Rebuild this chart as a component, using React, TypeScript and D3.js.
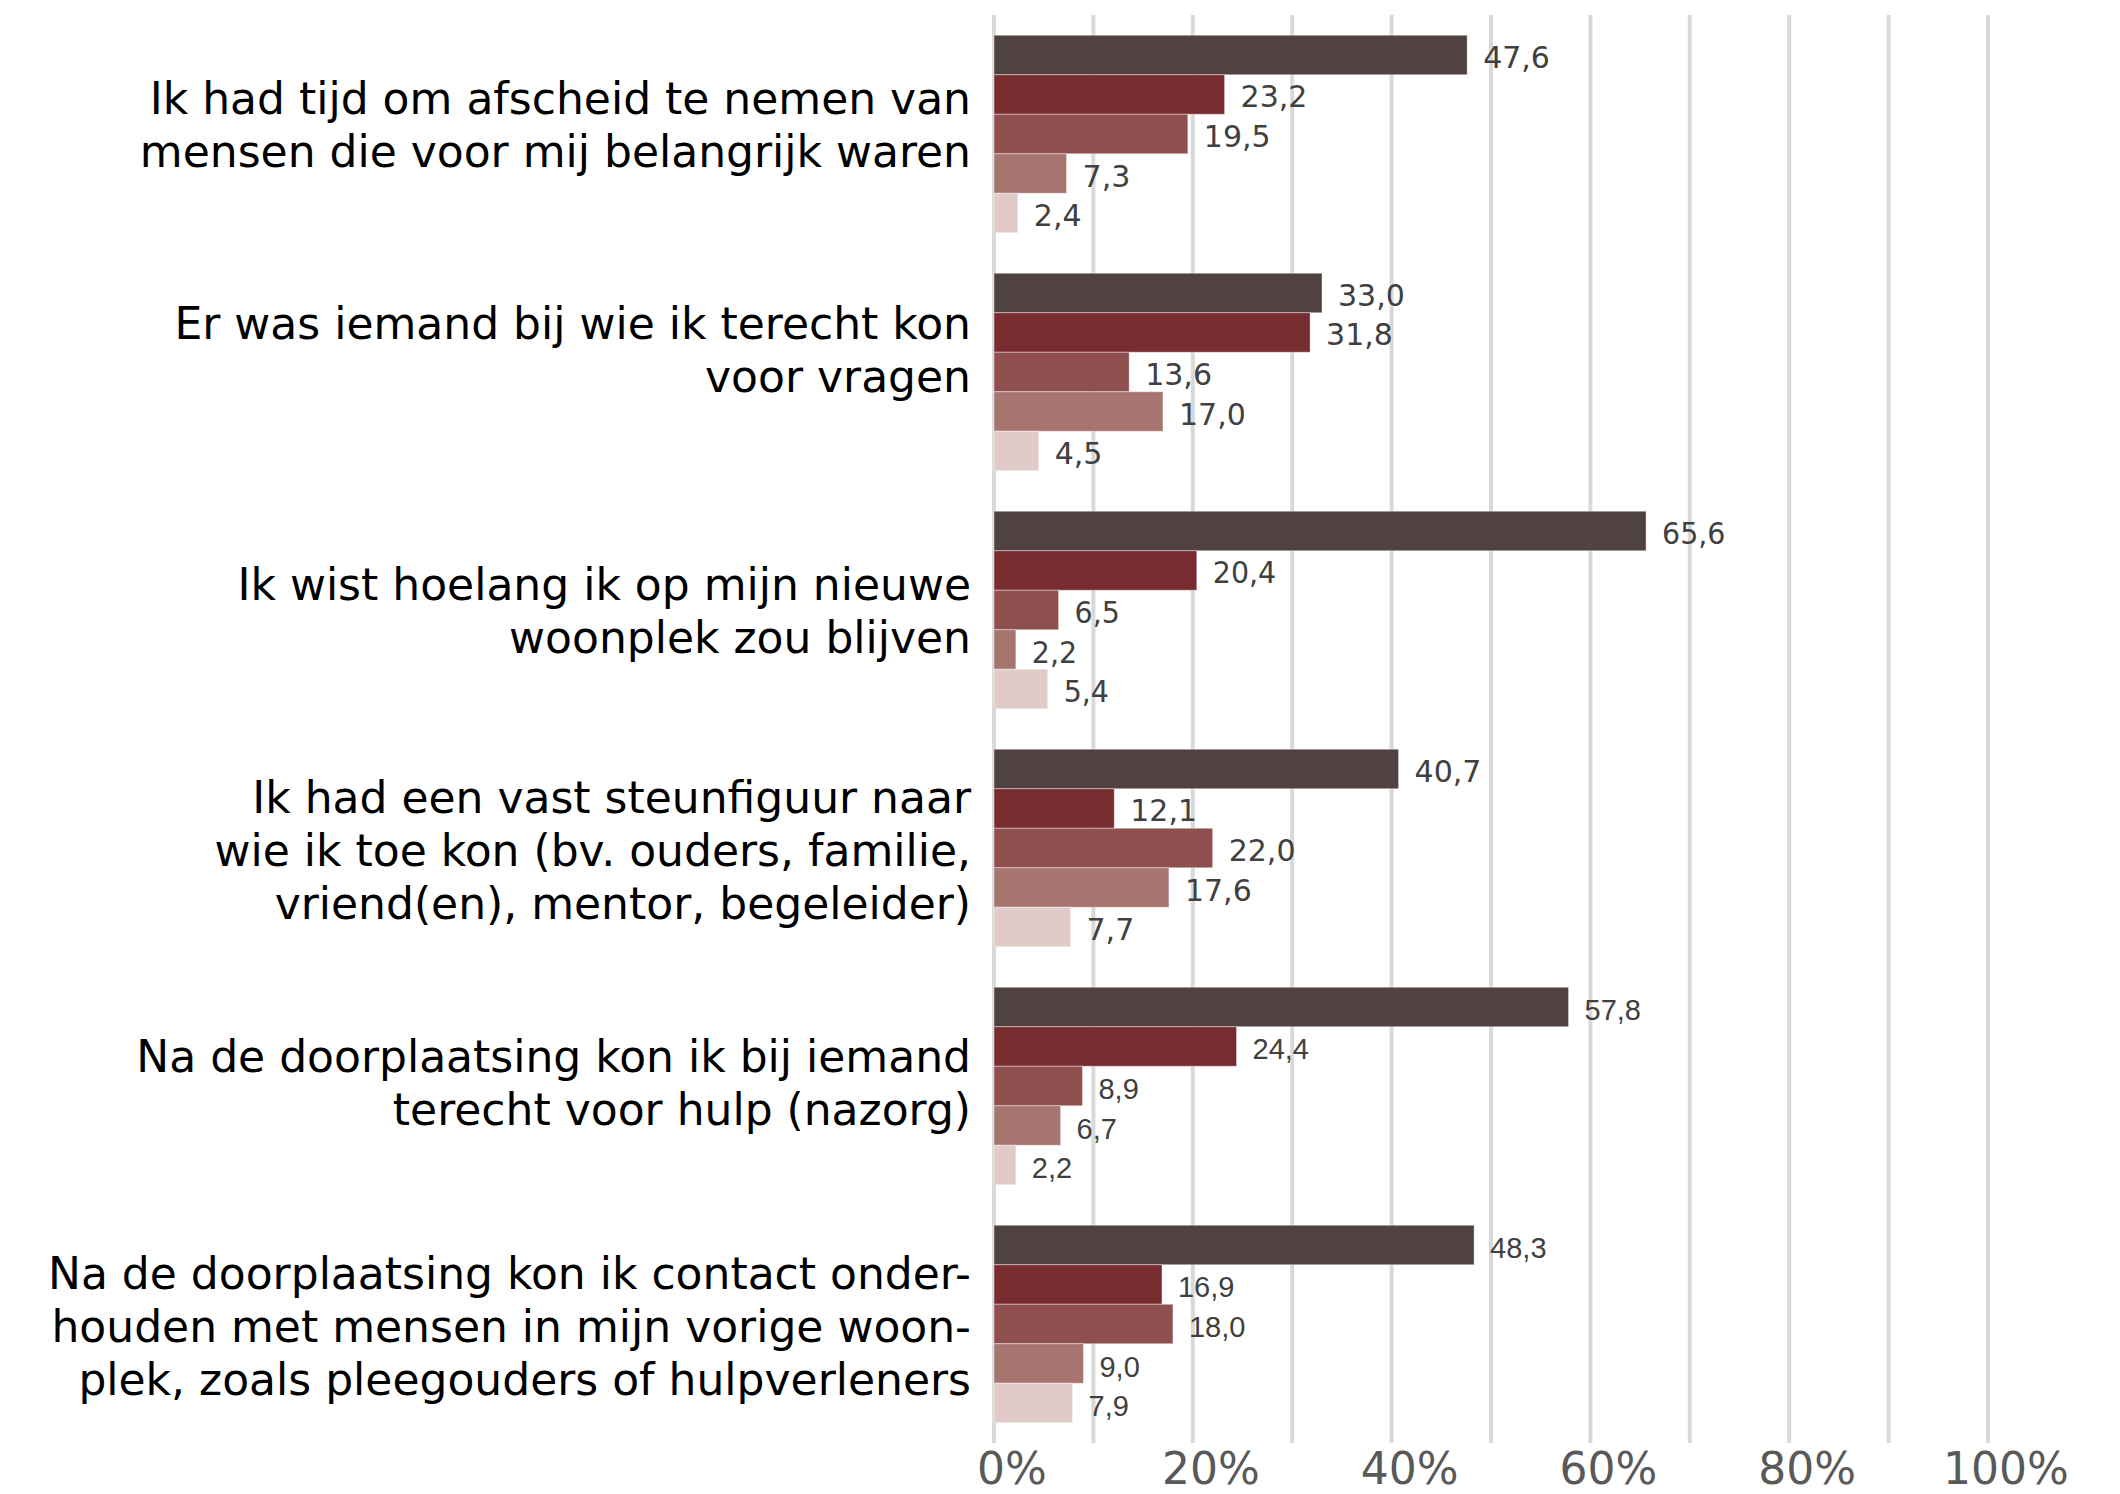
import React from "react";
import * as d3 from "d3";

const categories: string[][] = [
  ["Ik had tijd om afscheid te nemen van", "mensen die voor mij belangrijk waren"],
  ["Er was iemand bij wie ik terecht kon", "voor vragen"],
  ["Ik wist hoelang ik op mijn nieuwe", "woonplek zou blijven"],
  ["Ik had een vast steunfiguur naar", "wie ik toe kon (bv. ouders, familie,", "vriend(en), mentor, begeleider)"],
  ["Na de doorplaatsing kon ik bij iemand", "terecht voor hulp (nazorg)"],
  ["Na de doorplaatsing kon ik contact onder-", "houden met mensen in mijn vorige woon-", "plek, zoals pleegouders of hulpverleners"],
];

const series1 = [47.6, 33.0, 65.6, 40.7, 57.8, 48.3];
const series2 = [23.2, 31.8, 20.4, 12.1, 24.4, 16.9];
const series3 = [19.5, 13.6, 6.5, 22.0, 8.9, 18.0];
const series4 = [7.3, 17.0, 2.2, 17.6, 6.7, 9.0];
const series5 = [2.4, 4.5, 5.4, 7.7, 2.2, 7.9];
const seriesValues = [series1, series2, series3, series4, series5];

const tickValues = [0, 20, 40, 60, 80, 100];
const gridValues = [0, 10, 20, 30, 40, 50, 60, 70, 80, 90, 100];

// styling / layout (not data)
const colors = ["#504240", "#772d2f", "#8e4f4e", "#a77470", "#e0cbc9"];
const labelStyle = ["wide", "wide", "cond", "wide", "narrow", "narrow"];
const labelShift = [-10, -23, 0, 2, -4, 2];

const W = 2120;
const H = 1494;

export default function App() {
  const x = d3.scaleLinear().domain([0, 100]).range([994, 1988]);
  const y = d3
    .scaleBand<number>()
    .domain(d3.range(categories.length))
    .range([15, 1443])
    .paddingInner(0.17)
    .paddingOuter(0.085);
  const ys = d3
    .scaleBand<number>()
    .domain(d3.range(seriesValues.length))
    .range([0, y.bandwidth()]);
  const fmt = (v: number) => d3.format(".1f")(v).replace(".", ",");
  const lineH = 53;

  return (
    <svg
      width={W}
      height={H}
      style={{ position: "absolute", left: 0, top: 0, background: "#fff" }}
    >
      <rect x={0} y={0} width={W} height={H} fill="#fff" />
      {gridValues.map((g) => (
        <line
          key={g}
          x1={x(g)}
          x2={x(g)}
          y1={15}
          y2={1443}
          stroke="#d9d9d9"
          strokeWidth={4}
        />
      ))}
      {categories.map((lines, ci) => {
        const y0 = y(ci)!;
        const cy = y0 + y.bandwidth() / 2 + labelShift[ci];
        const n = lines.length;
        return (
          <g key={ci}>
            {lines.map((ln, li) => (
              <text
                key={li}
                x={971}
                y={cy + (li - (n - 1) / 2) * lineH + 16}
                textAnchor="end"
                fontFamily="DejaVu Sans"
                fontSize={44}
                fill="#000"
              >
                {ln}
              </text>
            ))}
            {seriesValues.map((vals, si) => {
              const v = vals[ci];
              const by = y0 + ys(si)!;
              const bh = ys.bandwidth();
              const st = labelStyle[ci];
              const tx = x(v) + 16;
              const ty = by + bh / 2 + 13;
              return (
                <g key={si}>
                  <rect
                    x={x(0)}
                    y={by}
                    width={x(v) - x(0)}
                    height={bh}
                    fill={colors[si]}
                    stroke="#ffffff"
                    strokeOpacity={0.4}
                    strokeWidth={1}
                  />
                  <text
                    transform={`translate(${tx},${ty}) scale(${st === "cond" ? 0.95 : 1},1)`}
                    fontFamily={st === "narrow" ? "Liberation Sans" : "DejaVu Sans"}
                    fontSize={st === "narrow" ? 29 : 30}
                    fill="#404040"
                  >
                    {fmt(v)}
                  </text>
                </g>
              );
            })}
          </g>
        );
      })}
      {tickValues.map((t) => (
        <text
          key={t}
          x={x(t) + 18}
          y={1484}
          textAnchor="middle"
          fontFamily="DejaVu Sans"
          fontSize={44}
          fill="#595959"
        >
          {t}%
        </text>
      ))}
    </svg>
  );
}
